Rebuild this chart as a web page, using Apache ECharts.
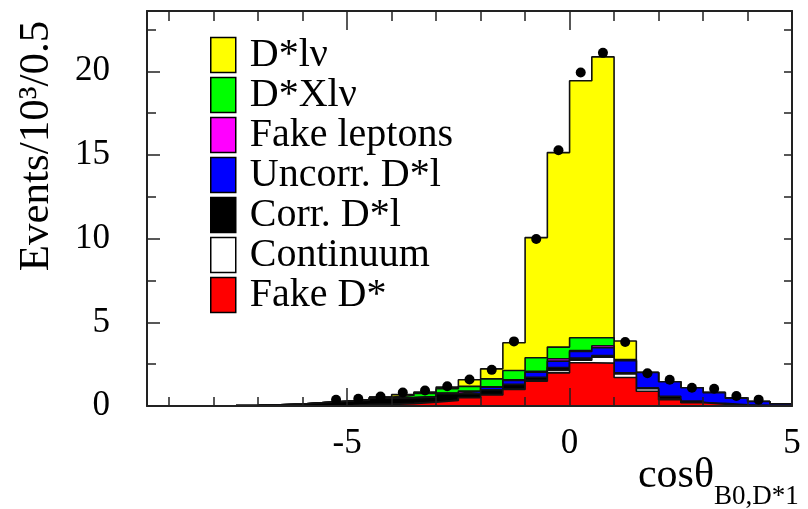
<!DOCTYPE html>
<html><head><meta charset="utf-8">
<script src="https://cdn.jsdelivr.net/npm/echarts@6/dist/echarts.min.js"></script>
<style>html,body{margin:0;padding:0;background:#fff}#c{width:808px;height:509px}</style>
</head><body><div id="c"></div>
<script>
// bin left edges (bin width 0.5)
const binLeft = [-9.5,-9,-8.5,-8,-7.5,-7,-6.5,-6,-5.5,-5,-4.5,-4,-3.5,-3,-2.5,-2,-1.5,-1,-0.5,0,0.5,1,1.5,2,2.5,3,3.5,4,4.5];
// components (in 10^3 events / 0.5), stacked from bottom to top
const fakeDstar   = [0,0,0,0,0,0,0,0,0,0.08,0.1,0.14,0.22,0.33,0.49,0.66,0.99,1.48,1.98,2.58,2.56,1.7,0.88,0.38,0.2,0.1,0.02,0,0];
const continuum   = [0,0,0,0,0,0,0,0,0,0,0.01,0.02,0.02,0.02,0.02,0.03,0.03,0.05,0.15,0.16,0.36,0.22,0.15,0.03,0.02,0.01,0,0,0];
const corrDl      = [0,0,0.01,0.02,0.04,0.07,0.12,0.2,0.28,0.27,0.36,0.32,0.3,0.38,0.22,0.28,0.27,0.19,0.17,0.12,0.1,0.06,0.05,0.17,0.08,0.05,0.05,0.04,0.02];
const uncorrDl    = [0,0,0,0,0,0,0,0,0,0,0.01,0.02,0.02,0.03,0.14,0.16,0.23,0.3,0.38,0.4,0.46,0.72,0.92,0.87,0.79,0.64,0.4,0.23,0.1];
const fakeLeptons = [0,0,0,0,0,0,0,0,0,0,0,0.01,0.01,0.01,0.02,0.02,0.05,0.05,0.14,0.06,0.12,0.02,0,0,0,0,0,0,0];
const dstarXlnu   = [0,0,0,0,0,0,0,0,0,0.02,0.05,0.12,0.18,0.26,0.28,0.47,0.55,0.81,0.7,0.76,0.48,0.06,0,0,0,0,0,0,0];
const dstarlnu    = [0,0,0,0,0,0,0,0,0,0,0,0.05,0.08,0.1,0.4,0.6,1.66,7.18,11.62,15.35,16.78,1.1,0,0,0,0,0,0,0];
// measured data points
const dataPoints  = [null,null,null,null,null,null,null,null,0.37,0.43,0.57,0.81,0.93,1.18,1.58,2.16,3.86,9.98,15.28,19.93,21.1,3.82,1.96,1.57,1.09,1.03,0.6,0.38,null];
// axis ticks
const xTickLabels = [-5,0,5];
const xMinorTicks = [-9,-8,-7,-6,-4,-3,-2,-1,1,2,3,4];
const yTickLabels = [0,5,10,15,20];
const yMinorTicks = [2.5,7.5,12.5,17.5,22.5];
const yRightTicks = [2.5,5,7.5,10,12.5,15,17.5,20,22.5];

const components = [
  {name:'Fake D*', values:fakeDstar, color:'#ff0000'},
  {name:'Continuum', values:continuum, color:'#ffffff'},
  {name:'Corr. D*l', values:corrDl, color:'#000000'},
  {name:'Uncorr. D*l', values:uncorrDl, color:'#0000ff'},
  {name:'Fake leptons', values:fakeLeptons, color:'#ff00ff'},
  {name:'D*Xlν', values:dstarXlnu, color:'#00ff00'},
  {name:'D*lν', values:dstarlnu, color:'#ffff00'}
];
const bw = binLeft[1]-binLeft[0];
const xEnd = binLeft[binLeft.length-1]+bw;
let cum = binLeft.map(()=>0);
const stepSeries = components.map((c,k)=>{
  cum = cum.map((v,i)=>v + c.values[i]);
  const pts = binLeft.map((x,i)=>[x, +cum[i].toFixed(4)]);
  pts.push([xEnd, +cum[cum.length-1].toFixed(4)]);
  return {
    name:c.name, type:'line', step:'end', data:pts, showSymbol:false, symbol:'none',
    xAxisIndex:0, yAxisIndex:0, z: 2 + (components.length-k),
    itemStyle:{color:c.color},
    lineStyle:{color:'#111', width:1.6},
    areaStyle:{color:c.color, opacity:1},
    silent:true
  };
});
// draw from top component downward so lower ones overlay
const orderedSeries = stepSeries.slice().reverse();

const serif = '"Liberation Serif", "Times New Roman", serif';
const tickLine = {color:'#222', width:1.5};
function xAx(pos, ticks, len, labels, line){
  return {type:'value', position:pos, min:binLeft[0], max:xEnd, z:50,
    axisLine:{show:line, onZero:false, lineStyle:{color:'#222', width:2}},
    axisTick:{show:true, inside:true, length:len, customValues:ticks, lineStyle:tickLine},
    axisLabel: labels ? {show:true, customValues:labels, margin:20, fontFamily:serif, fontSize:35, color:'#000'} : {show:false},
    splitLine:{show:false}};
}
function yAx(pos, ticks, len, labels, line){
  return {type:'value', position:pos, min:0, max:23.6, z:50,
    axisLine:{show:line, onZero:false, lineStyle:{color:'#222', width:2}},
    axisTick:{show:true, inside:true, length:len, customValues:ticks, lineStyle:tickLine},
    axisLabel: labels ? {show:true, customValues:labels, margin:37, fontFamily:serif, fontSize:35, color:'#000'} : {show:false},
    splitLine:{show:false}};
}

const chart = echarts.init(document.getElementById('c'), null, {renderer:'canvas'});
chart.setOption({
  animation:false,
  backgroundColor:'#fff',
  grid:{left:147, right:16, top:11, bottom:103, show:false},
  xAxis:[
    xAx('bottom', xTickLabels, 18, xTickLabels, true),
    xAx('bottom', xMinorTicks, 9, null, false),
    xAx('top', xTickLabels, 19, null, true),
    xAx('top', xMinorTicks, 10, null, false)
  ],
  yAxis:[
    yAx('left', yTickLabels, 13, yTickLabels, true),
    yAx('left', yMinorTicks, 9, null, false),
    yAx('right', yRightTicks, 8, null, true)
  ],
  legend:{
    orient:'vertical', left:205, top:30, itemWidth:25, itemHeight:35, itemGap:0,
    icon:'rect', selectedMode:false,
    itemStyle:{borderColor:'#000', borderWidth:1.5},
    textStyle:{fontFamily:serif, fontSize:40, color:'#000', lineHeight:35, padding:[0,0,0,9]},
    data: components.slice().reverse().map(c=>({name:c.name, itemStyle:{color:c.color, borderColor:'#000', borderWidth:1.5}}))
  },
  series: orderedSeries.concat([{
    name:'Data', type:'scatter', xAxisIndex:0, yAxisIndex:0, z:20,
    symbol:'circle', symbolSize:10, itemStyle:{color:'#000', opacity:1},
    data: binLeft.map((x,i)=> dataPoints[i]==null ? null : [x+bw/2, dataPoints[i]]).filter(d=>d)
  }]),
  graphic:[
    {type:'text', x:37, y:146, rotation:Math.PI/2,
      style:{text:'Events/10³/0.5', fontFamily:serif, fontSize:43, fill:'#000', align:'center', verticalAlign:'middle'}},
    {type:'text', x:714, y:476,
      style:{text:'cosθ', fontFamily:serif, fontSize:42, fill:'#000', align:'right', verticalAlign:'middle'}},
    {type:'text', x:714, y:497,
      style:{text:'B0,D*1', fontFamily:serif, fontSize:27, fill:'#000', align:'left', verticalAlign:'middle'}}
  ]
});
</script></body></html>
